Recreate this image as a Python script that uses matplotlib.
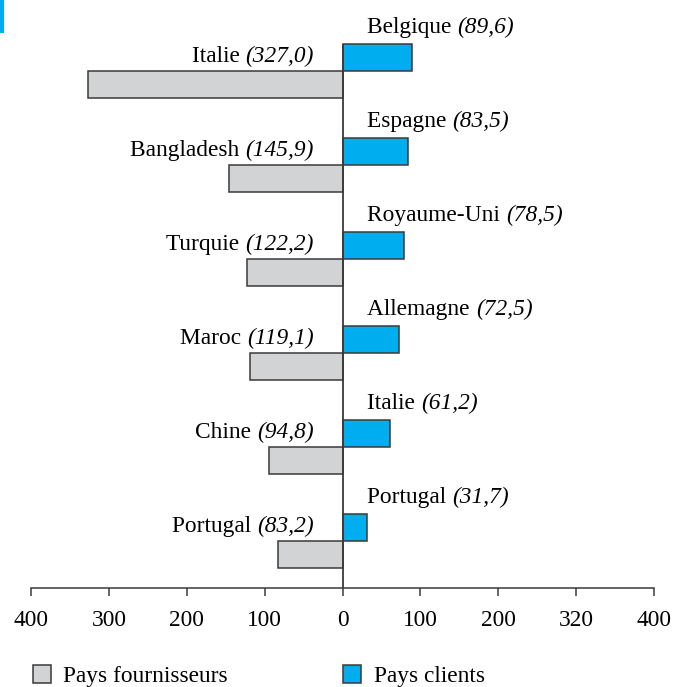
import matplotlib
matplotlib.use('Agg')
import matplotlib.pyplot as plt
import numpy as np
from matplotlib.patches import Rectangle, Patch

plt.rcParams['font.family'] = ['Liberation Serif', 'DejaVu Serif']

# data
fournisseurs = ['Italie', 'Bangladesh', 'Turquie', 'Maroc', 'Chine', 'Portugal']
fourn_vals = [327.0, 145.9, 122.2, 119.1, 94.8, 83.2]
clients = ['Belgique', 'Espagne', 'Royaume-Uni', 'Allemagne', 'Italie', 'Portugal']
client_vals = [89.6, 83.5, 78.5, 72.5, 61.2, 31.7]
tick_pos = [-400, -300, -200, -100, 0, 100, 200, 300, 400]
tick_labels = ['400', '300', '200', '100', '0', '100', '200', '320', '400']

gray = '#d1d3d4'
blue = '#00aeef'
edge = '#3a3a3a'
fs = 16.8
bh = 0.29

def fmt(v):
    return '(' + ('%.1f' % v).replace('.', ',') + ')'

fig = plt.figure(figsize=(6.75, 6.87), dpi=100)
ax = fig.add_axes([31 / 675, 99 / 687, 623 / 675, 588 / 687])

y = np.arange(len(fournisseurs))
ax.barh(y, [-v for v in fourn_vals], height=bh, align='edge', color=gray,
        edgecolor=edge, linewidth=1.1, zorder=2)
ax.barh(y - bh, client_vals, height=bh, align='edge', color=blue,
        edgecolor=edge, linewidth=1.1, zorder=2)

ax.set_xlim(-400, 400)
ax.set_ylim(5.5, -0.755)
ax.vlines(0, 5.5, -bh, color=edge, linewidth=1.3, zorder=3)

# labels
for i in range(len(y)):
    # suppliers: right aligned, value italic
    t = ax.text(-37, i - 0.15, fmt(fourn_vals[i]), ha='right', va='center',
                fontsize=fs, style='italic')
    ax.annotate(fournisseurs[i] + ' ', xy=(0, 0.5), xycoords=t,
                ha='right', va='center', fontsize=fs)
    # clients: left aligned
    t2 = ax.text(32, i - bh - 0.17, clients[i] + ' ', ha='left', va='center',
                 fontsize=fs)
    ax.annotate(fmt(client_vals[i]), xy=(1, 0.5), xycoords=t2,
                ha='left', va='center', fontsize=fs, style='italic')

for s in ['top', 'right', 'left']:
    ax.spines[s].set_visible(False)
ax.spines['bottom'].set_color(edge)
ax.spines['bottom'].set_linewidth(1.1)
ax.set_yticks([])
ax.set_xticks(tick_pos)
ax.set_xticklabels(tick_labels, fontsize=fs)
ax.tick_params(axis='x', length=6, width=1.1, color=edge, pad=10)

# legend
handles = [Patch(facecolor=gray, edgecolor=edge, linewidth=1.1, label='Pays fournisseurs'),
           Patch(facecolor=blue, edgecolor=edge, linewidth=1.1, label='Pays clients')]
fig.legend(handles=handles, loc='lower left', bbox_to_anchor=(33 / 675, 0),
           ncol=2, frameon=False, fontsize=fs, handlelength=0.75, handleheight=0.8,
           handletextpad=0.55, columnspacing=4.95, borderaxespad=0, borderpad=0)

# small blue mark top left
fig.add_artist(Rectangle((0, 654 / 687), 4 / 675, 33 / 687, transform=fig.transFigure,
                         color=blue, linewidth=0))

fig.savefig('out.png', dpi=100)
